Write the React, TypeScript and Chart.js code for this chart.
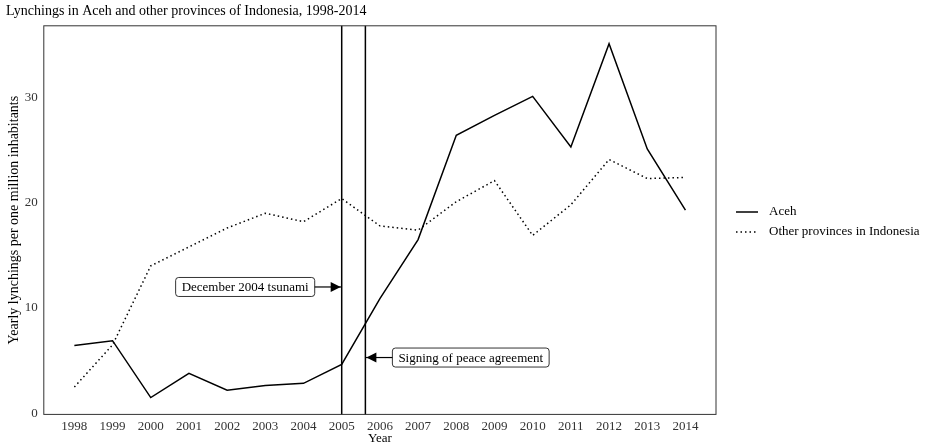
import { useEffect, useRef } from "react";
import Chart from "chart.js/auto";

const years = [1998, 1999, 2000, 2001, 2002, 2003, 2004, 2005, 2006, 2007, 2008, 2009, 2010, 2011, 2012, 2013, 2014];
const aceh = [6.45, 6.9, 1.5, 3.8, 2.2, 2.65, 2.85, 4.65, 10.9, 16.5, 26.4, 28.3, 30.1, 25.3, 35.1, 25.1, 19.3];
const otherProvinces = [2.5, 6.5, 14.0, 15.8, 17.6, 19.0, 18.2, 20.4, 17.8, 17.4, 20.1, 22.1, 16.9, 19.8, 24.1, 22.3, 22.4];
const seriesNames = ["Aceh", "Other provinces in Indonesia"];
const events = [
  { x: 2005, label: "December 2004 tsunami", y: 12, side: "left" },
  { x: 2005.62, label: "Signing of peace agreement", y: 5.3, side: "right" },
];

const FONT = "'Liberation Serif', 'DejaVu Serif', serif";

const extras = {
  id: "extras",
  afterDatasetsDraw(chart: any) {
    const { ctx, chartArea, scales } = chart;
    const xs = scales.x;
    const ys = scales.y;
    ctx.save();
    // event lines
    ctx.strokeStyle = "#000";
    ctx.lineWidth = 1.5;
    events.forEach((e) => {
      const px = xs.getPixelForValue(e.x);
      ctx.beginPath();
      ctx.moveTo(px, chartArea.top);
      ctx.lineTo(px, chartArea.bottom);
      ctx.stroke();
    });
    // labels with arrows
    ctx.font = `13px ${FONT}`;
    ctx.textBaseline = "middle";
    events.forEach((e) => {
      const px = xs.getPixelForValue(e.x);
      const py = ys.getPixelForValue(e.y);
      const w = ctx.measureText(e.label).width + 12;
      const h = 19;
      const gap = 27;
      const bx = e.side === "left" ? px - gap - w : px + gap;
      ctx.fillStyle = "#fff";
      ctx.strokeStyle = "#000";
      ctx.lineWidth = 0.8;
      ctx.beginPath();
      ctx.roundRect(bx, py - h / 2, w, h, 3);
      ctx.fill();
      ctx.stroke();
      ctx.fillStyle = "#000";
      ctx.textAlign = "left";
      ctx.fillText(e.label, bx + 6, py + 1);
      const from = e.side === "left" ? bx + w : bx;
      ctx.lineWidth = 1.2;
      ctx.beginPath();
      ctx.moveTo(from, py);
      ctx.lineTo(px, py);
      ctx.stroke();
      const dir = e.side === "left" ? 1 : -1;
      ctx.beginPath();
      ctx.moveTo(px - 1 * dir, py);
      ctx.lineTo(px - 11 * dir, py - 5);
      ctx.lineTo(px - 11 * dir, py + 5);
      ctx.closePath();
      ctx.fill();
    });
    // border
    ctx.strokeStyle = "#333";
    ctx.lineWidth = 1;
    ctx.strokeRect(chartArea.left, chartArea.top, chartArea.right - chartArea.left, chartArea.bottom - chartArea.top);
    // legend
    ctx.font = `13px ${FONT}`;
    ctx.textAlign = "left";
    const lx = chartArea.right + 20;
    [212, 232].forEach((y, i) => {
      ctx.strokeStyle = "#000";
      ctx.lineWidth = 1.5;
      ctx.setLineDash(i === 1 ? [1.5, 3] : []);
      ctx.beginPath();
      ctx.moveTo(lx, y);
      ctx.lineTo(lx + 22, y);
      ctx.stroke();
      ctx.setLineDash([]);
      ctx.fillStyle = "#000";
      ctx.fillText(seriesNames[i], lx + 33, y);
    });
    ctx.restore();
  },
};

export default function App() {
  const ref = useRef<HTMLCanvasElement>(null);
  const chartRef = useRef<Chart | null>(null);

  useEffect(() => {
    if (!ref.current) return;
    document.body.style.margin = "0";
    chartRef.current = new Chart(ref.current, {
      type: "line",
      data: {
        datasets: [
          {
            label: seriesNames[0],
            data: years.map((y, i) => ({ x: y, y: aceh[i] })),
            borderColor: "#000",
            borderWidth: 1.5,
            pointRadius: 0,
            tension: 0,
          },
          {
            label: seriesNames[1],
            data: years.map((y, i) => ({ x: y, y: otherProvinces[i] })),
            borderColor: "#000",
            borderWidth: 1.5,
            borderDash: [1.5, 3],
            pointRadius: 0,
            tension: 0,
          },
        ],
      },
      plugins: [extras],
      options: {
        animation: false,
        responsive: false,
        layout: { padding: { left: 6, right: 209, top: 0, bottom: 0 } },
        plugins: {
          legend: { display: false },
          tooltip: { enabled: false },
          title: {
            display: true,
            text: "Lynchings in Aceh and other provinces of Indonesia, 1998-2014",
            align: "start",
            color: "#000",
            font: { family: FONT, size: 14, weight: "normal" },
            padding: { top: 3, bottom: 6 },
          },
        },
        scales: {
          x: {
            type: "linear",
            min: 1997.2,
            max: 2014.8,
            afterBuildTicks: (axis: any) => {
              axis.ticks = years.map((v) => ({ value: v }));
            },
            grid: { display: false, drawTicks: true, tickLength: 4, tickColor: "#333" },
            border: { display: false },
            ticks: { color: "#333", font: { family: FONT, size: 13 }, padding: 0, maxRotation: 0, autoSkip: false, callback: (v: any) => String(v) },
            title: { display: true, text: "Year", color: "#000", font: { family: FONT, size: 13, lineHeight: 1 }, padding: { top: -2, bottom: 0 } },
          },
          y: {
            min: -0.1,
            max: 36.8,
            afterBuildTicks: (axis: any) => {
              axis.ticks = [0, 10, 20, 30].map((v) => ({ value: v }));
            },
            grid: { display: false, drawTicks: true, tickLength: 4, tickColor: "#333" },
            border: { display: false },
            ticks: { color: "#333", font: { family: FONT, size: 13 }, padding: 2 },
            title: { display: true, text: "Yearly lynchings per one million inhabitants", color: "#000", font: { family: FONT, size: 14 }, padding: 0 },
          },
        },
      },
    });
    return () => {
      chartRef.current?.destroy();
    };
  }, []);

  return <canvas ref={ref} width={925} height={445} style={{ display: "block", background: "#fff" }} />;
}
